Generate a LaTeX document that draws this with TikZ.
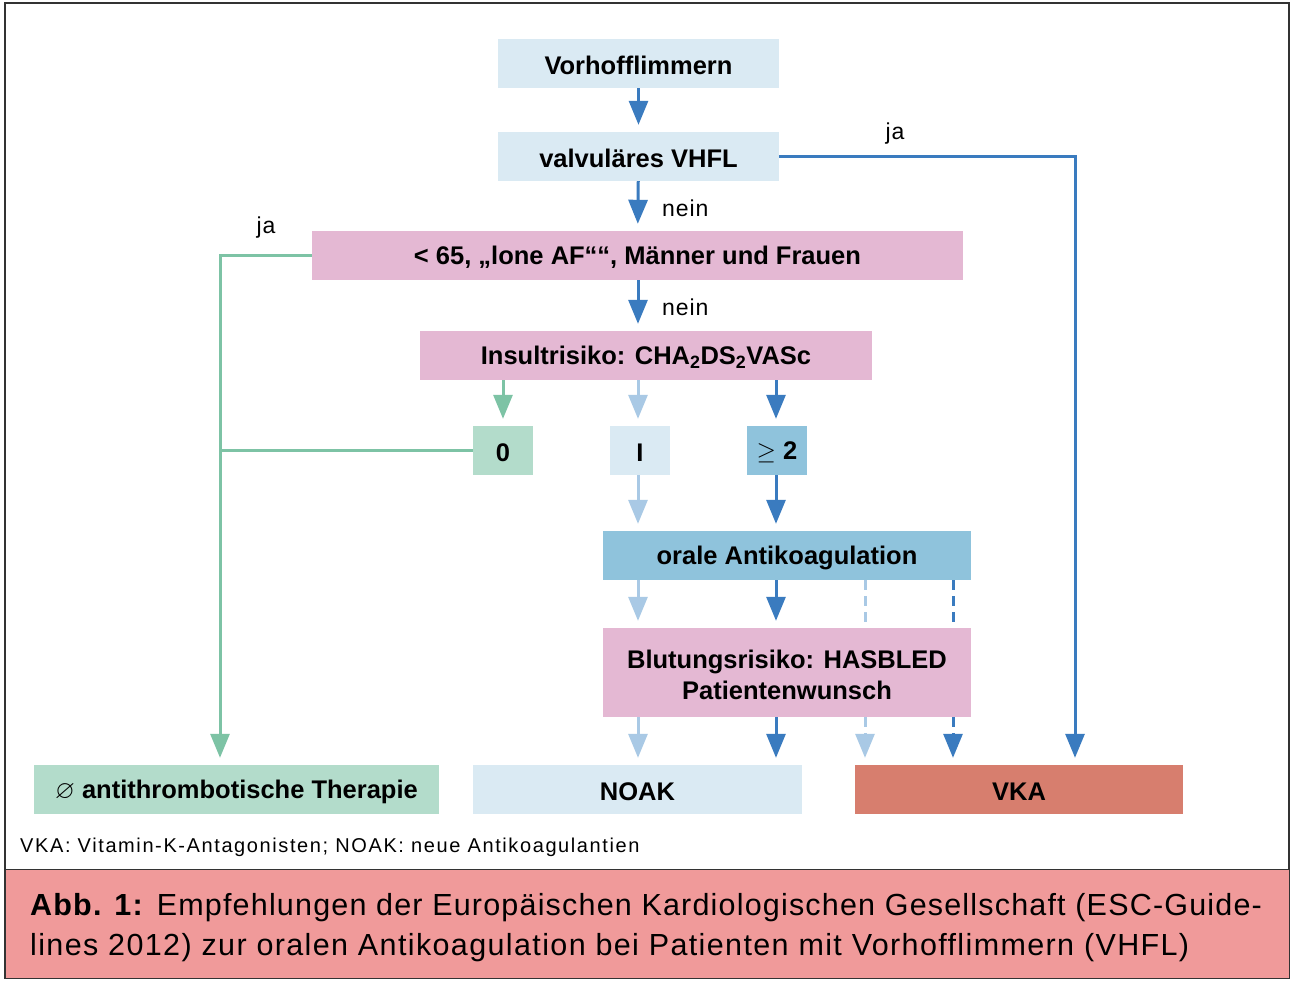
\documentclass[tikz,border=0pt]{standalone}
\usepackage{fontspec}
\usepackage{amssymb}
\setmainfont{Liberation Sans}
\usetikzlibrary{arrows.meta,calc}
\definecolor{lblue}{HTML}{DAEAF3}
\definecolor{pinkb}{HTML}{E4B8D3}
\definecolor{greenb}{HTML}{B3DCCB}
\definecolor{mblue}{HTML}{8FC3DC}
\definecolor{vkac}{HTML}{D77E6E}
\definecolor{adark}{HTML}{3A7BBF}
\definecolor{alight}{HTML}{A9C9E5}
\definecolor{agreen}{HTML}{7DC3A5}
\definecolor{capc}{HTML}{F09A9A}
\definecolor{framec}{HTML}{333333}
\tikzset{
  box/.style={rectangle, inner sep=0pt, font=\fontsize{25.5}{31}\selectfont\bfseries, align=center},
  arr/.style={line width=3pt, -{Triangle[width=19pt,length=24pt]}, shorten >=7pt},
  seg/.style={line width=3pt},
  dsh/.style={dash pattern=on 10pt off 6pt},
  lbl/.style={font=\fontsize{23}{27}\selectfont\addfontfeature{LetterSpace=4}, inner sep=0pt}
}
\newcommand{\lowr}[1]{\raisebox{-2pt}[\height][\depth]{#1}}
\begin{document}
\begin{tikzpicture}[x=1pt,y=-1pt]
\useasboundingbox (0,0) rectangle (1296,984);
% frame
\draw[framec, line width=1.5pt, fill=white] (5,3) rectangle (1289,978);
\draw[framec, line width=1pt, fill=capc] (5,869) rectangle (1289,978);

% nodes
\node[box, fill=lblue, minimum width=281pt, minimum height=49pt] (vhf) at (638.5,63.5) {\lowr{Vorhofflimmern}};
\node[box, fill=lblue, minimum width=281pt, minimum height=49pt] (valv) at (638.5,156.5) {\lowr{valvuläres VHFL}};
\node[box, fill=pinkb, minimum width=651pt, minimum height=49pt] (lone) at (637.5,255.5) {\lowr{< 65, „lone AF““, Männer und Frauen}};
\node[box, fill=pinkb, minimum width=452pt, minimum height=49pt] (insult) at (646,355.5) {\lowr{Insultrisiko: CHA\textsubscript{2}DS\textsubscript{2}VASc}};
\node[box, fill=greenb, minimum width=60pt, minimum height=49pt] (zero) at (503,450.5) {\lowr{0}};
\node[box, fill=lblue, minimum width=60pt, minimum height=49pt] (one) at (640,450.5) {\lowr{I}};
\node[box, fill=mblue, minimum width=60pt, minimum height=49pt] (two) at (777,450.5) {\lowr{$\geq$ 2}};
\node[box, fill=mblue, minimum width=368pt, minimum height=49pt] (oral) at (787,555.5) {\lowr{orale Antikoagulation}};
\node[box, fill=pinkb, minimum width=368pt, minimum height=89pt] (blut) at (787,672.5) {\lowr{Blutungsrisiko: HASBLED}\\[0pt]\lowr{Patientenwunsch}};
\node[box, fill=greenb, minimum width=405pt, minimum height=49pt] (anti) at (236.5,789.5) {\lowr{$\varnothing$ antithrombotische Therapie}};
\node[box, fill=lblue, minimum width=329pt, minimum height=49pt] (noak) at (637.5,789.5) {\lowr{NOAK}};
\node[box, fill=vkac, minimum width=328pt, minimum height=49pt] (vka) at (1019,789.5) {\lowr{VKA}};

% coordinates
\coordinate (gcorner) at (220,255.5);
\coordinate (bcorner) at (1075,156.5);
\coordinate (xa) at (638,0);
\coordinate (xb) at (776,0);
\coordinate (xc) at (865,0);
\coordinate (xd) at (953,0);

% connectors
\draw[arr, adark] (vhf) -- (valv);
\draw[arr, adark] (valv) -- (lone);
\draw[arr, adark] (lone.south -| xa) -- (insult.north -| xa);
\draw[arr, adark] (valv.east) -- (bcorner) -- (bcorner |- vka.north);
\draw[arr, agreen] (lone.west) -- (gcorner) -- (gcorner |- anti.north);
\draw[seg, agreen] (zero.west) -- (zero.west -| gcorner);

\draw[arr, agreen] (insult.south -| zero.north) -- (zero.north);
\draw[arr, alight] (insult.south -| xa) -- (one.north -| xa);
\draw[arr, adark] (insult.south -| xb) -- (two.north -| xb);
\draw[arr, alight] (one.south -| xa) -- (oral.north -| xa);
\draw[arr, adark] (two.south -| xb) -- (oral.north -| xb);

\draw[arr, alight] (oral.south -| xa) -- (blut.north -| xa);
\draw[arr, adark] (oral.south -| xb) -- (blut.north -| xb);
\draw[seg, alight, dsh] (oral.south -| xc) -- (blut.north -| xc);
\draw[seg, adark, dsh] (oral.south -| xd) -- (blut.north -| xd);

\draw[arr, alight] (blut.south -| xa) -- (noak.north -| xa);
\draw[arr, adark] (blut.south -| xb) -- (noak.north -| xb);
\draw[arr, alight, dsh] (blut.south -| xc) -- (vka.north -| xc);
\draw[arr, adark, dsh] (blut.south -| xd) -- (vka.north -| xd);

% labels
\node[lbl, anchor=west] (n1) at (662,208) {nein};
\node[lbl, anchor=west] (n2) at (662,307) {nein};
\node[lbl] (j1) at (895,134) {ja};
\node[lbl] (j2) at (266,228) {ja};

% footnote and caption
\node[anchor=base west, inner sep=0pt, font=\fontsize{20}{24}\selectfont\addfontfeature{LetterSpace=8}] (foot) at (20,852) {VKA: Vitamin-K-Antagonisten; NOAK: neue Antikoagulantien};
\node[anchor=base west, inner sep=0pt, font=\fontsize{30.5}{36}\selectfont\addfontfeature{LetterSpace=3.9}] (cap1) at (30,915) {\textbf{Abb. 1:} Empfehlungen der Europäischen Kardiologischen Gesellschaft (ESC-Guide-};
\node[anchor=base west, inner sep=0pt, font=\fontsize{30.5}{36}\selectfont\addfontfeature{LetterSpace=4.5}] (cap2) at (30,955) {lines 2012) zur oralen Antikoagulation bei Patienten mit Vorhofflimmern (VHFL)};
\end{tikzpicture}
\end{document}
